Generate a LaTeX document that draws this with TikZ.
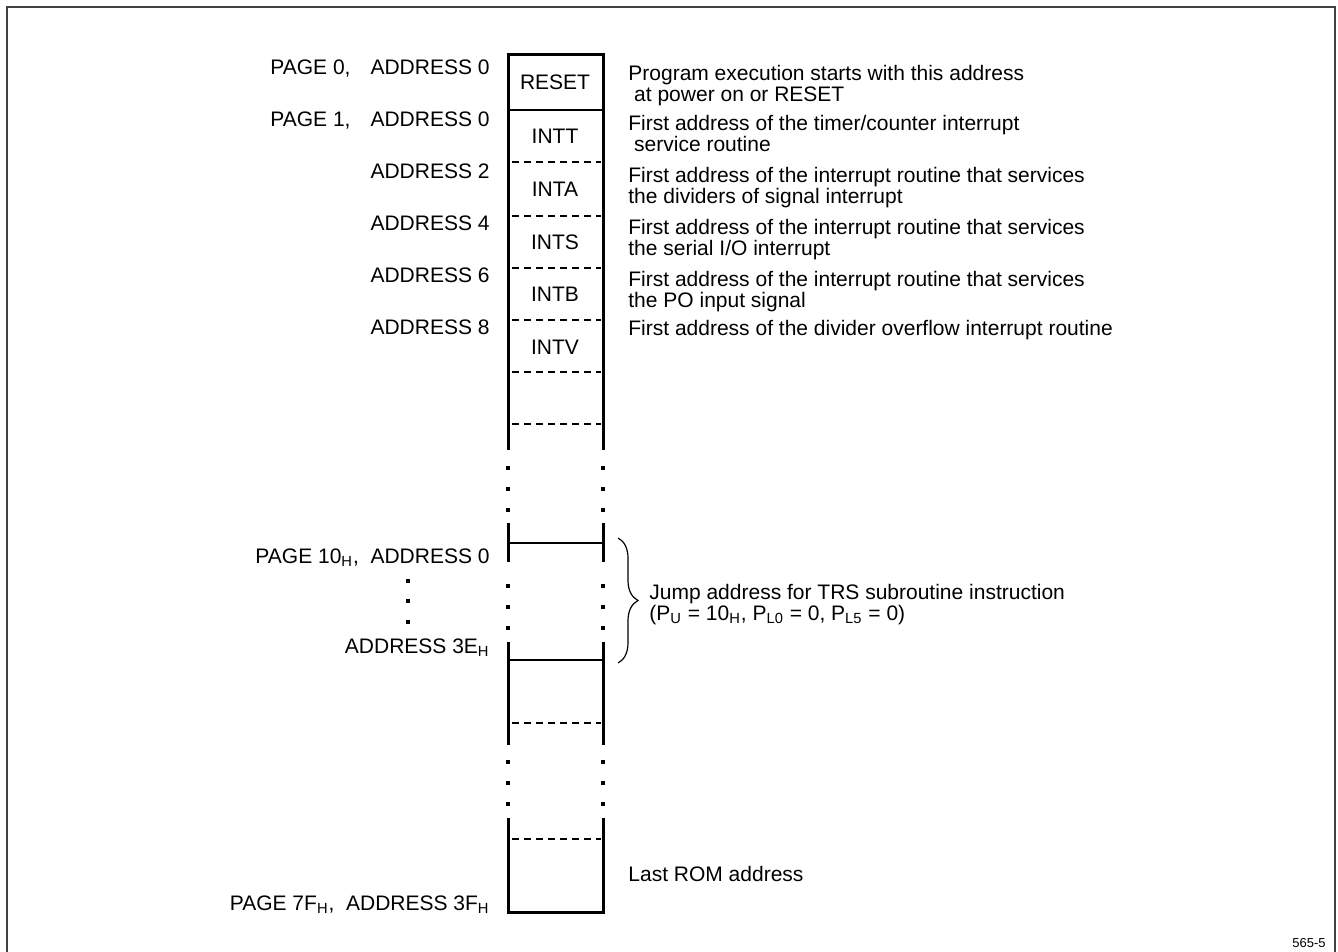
\documentclass[tikz,border=0pt]{standalone}
\usepackage{fontspec}
\setmainfont{Liberation Sans}
\usetikzlibrary{positioning,decorations.pathreplacing}

\newcommand{\hx}{\textsubscript{H}}

\begin{document}
\begin{tikzpicture}[x=0.5pt,y=-0.5pt,
		wall/.style={line width=1.5pt},
		rule/.style={line width=0.9pt},
		sep/.style={line width=0.6pt, dash pattern=on 3.5pt off 2.5pt},
		cell/.style={font=\fontsize{10.5}{10.5}\selectfont, inner sep=0pt},
		addr/.style={font=\fontsize{10.5}{10.5}\selectfont, inner sep=0pt, anchor=north east},
		note/.style={font=\fontsize{10.5}{10.5}\selectfont, inner sep=0pt, anchor=north west, align=left}]
	\useasboundingbox (0,0) rectangle (1338,952);
	\draw[line width=1pt, black!75] (7,952) -- (7,7) -- (1335,7) -- (1335,952);

	% memory column
	\draw[wall] (508,450) -- (508,55) -- (603,55) -- (603,450);
	\draw[wall] (508,523) -- (508,562) (603,523) -- (603,562);
	\draw[wall] (508,642) -- (508,745) (603,642) -- (603,745);
	\draw[wall] (508,818) -- (508,912) -- (603,912) -- (603,818);
	\foreach \y in {110,543,660}
		\draw[rule] (508,\y) -- (603,\y);
	\foreach \y in {162,216,268,320,372,424,723,839}
		\draw[sep] (512,\y) -- (601,\y);
	\foreach \y in {468,489,510,586,607,628,762,783,804}
		\foreach \x in {508,603}
			\fill (\x-1.6,\y-1.6) rectangle ++(3.2,3.2);
	\foreach \y in {581,601,622}
		\fill (408-1.6,\y-1.6) rectangle ++(3.2,3.2);

	% cells
	\node[cell] (reset) at (555,82) {RESET};
	\node[cell] (intt) at (555,136) {INTT};
	\node[cell] (inta) at (555,189) {INTA};
	\node[cell] (ints) at (555,242) {INTS};
	\node[cell] (intb) at (555,294) {INTB};
	\node[cell] (intv) at (555,347) {INTV};

	% addresses
	\node[addr] (a0) at (490,59) {PAGE 0,\hspace{10pt}ADDRESS 0};
	\node[addr] (a1) at (490,111) {PAGE 1,\hspace{10pt}ADDRESS 0};
	\node[addr] (a2) at (490,163) {ADDRESS 2};
	\node[addr] (a4) at (490,215) {ADDRESS 4};
	\node[addr] (a6) at (490,267) {ADDRESS 6};
	\node[addr] (a8) at (490,319) {ADDRESS 8};
	\node[addr] (p10) at (490,548) {PAGE 10\hx,\ \ ADDRESS 0};
	\node[addr] (a3e) at (490,638) {ADDRESS 3E\hx};
	\node[addr] (p7f) at (490,895) {PAGE 7F\hx,\ \ ADDRESS 3F\hx};

	% notes
	\node[note] (nreset) at (628,65) {Program execution starts with this address\\\ at power on or RESET};
	\node[note] (nintt) at (628,115) {First address of the timer/counter interrupt\\\ service routine};
	\node[note] (ninta) at (628,167) {First address of the interrupt routine that services\\the dividers of signal interrupt};
	\node[note] (nints) at (628,219) {First address of the interrupt routine that services\\the serial I/O interrupt};
	\node[note] (nintb) at (628,271) {First address of the interrupt routine that services\\the PO input signal};
	\node[note] (nintv) at (628,320) {First address of the divider overflow interrupt routine};
	\node[note] (nlast) at (628,866) {Last ROM address};

	% jump area
	\coordinate (jtop) at (618,538);
	\coordinate (jbot) at (618,663);
	\draw[line width=0.6pt, decorate, decoration={brace, amplitude=10pt}] (jtop) -- (jbot);
	\node[note] (njump) at (649,584) {Jump address for TRS subroutine instruction\\(P\textsubscript{U} = 10\hx, P\textsubscript{L0} = 0, P\textsubscript{L5} = 0)};

	\node[inner sep=0pt, anchor=north east, font=\fontsize{6.5}{7}\selectfont] (fig) at (1326,938) {565-5};
\end{tikzpicture}
\end{document}
